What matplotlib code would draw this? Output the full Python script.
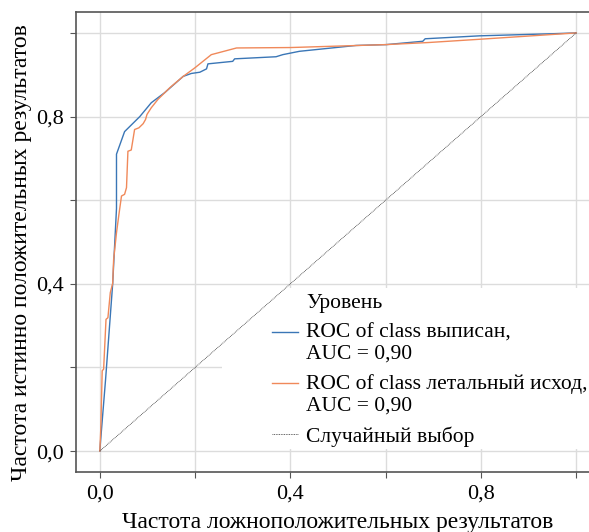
import numpy as np
import matplotlib.pyplot as plt
from matplotlib.lines import Line2D
from matplotlib.patches import Rectangle
from matplotlib.legend_handler import HandlerLine2D

# ROC curves
fpr_vyp = [0, 0.002, 0.012, 0.027, 0.035, 0.035, 0.052, 0.084, 0.108, 0.136, 0.175, 0.192,
           0.210, 0.224, 0.227, 0.279, 0.283, 0.370, 0.384, 0.419, 0.538, 0.601, 0.678,
           0.683, 0.797, 0.950, 1.0]
tpr_vyp = [0, 0.03, 0.17, 0.40, 0.58, 0.71, 0.764, 0.800, 0.833, 0.857, 0.896, 0.903,
           0.906, 0.914, 0.926, 0.932, 0.938, 0.943, 0.948, 0.956, 0.970, 0.972, 0.980,
           0.986, 0.993, 0.998, 1.0]

fpr_let = [0, 0.002, 0.005, 0.008, 0.013, 0.017, 0.022, 0.027, 0.029, 0.035, 0.040, 0.0455,
           0.052, 0.056, 0.059, 0.066, 0.073, 0.082, 0.091, 0.096, 0.099, 0.108, 0.122,
           0.147, 0.175, 0.199, 0.234, 0.287, 0.40, 0.60, 0.69, 0.80, 1.0]
tpr_let = [0, 0.053, 0.192, 0.196, 0.315, 0.319, 0.379, 0.401, 0.458, 0.522, 0.565, 0.610,
           0.614, 0.630, 0.717, 0.720, 0.769, 0.773, 0.783, 0.793, 0.805, 0.821, 0.841,
           0.869, 0.896, 0.916, 0.948, 0.964, 0.965, 0.972, 0.977, 0.985, 1.0]

labels = ["ROC of class выписан,\nAUC = 0,90",
          "ROC of class летальный исход,\nAUC = 0,90",
          "Случайный выбор"]
legend_title = "Уровень"
tick_vals = [0, 0.2, 0.4, 0.6, 0.8, 1.0]
tick_text = ["0,0", "", "0,4", "", "0,8", ""]

plt.rcParams['font.family'] = ['Liberation Serif', 'DejaVu Serif']


class TopLineHandler(HandlerLine2D):
    # put the key next to the first line of a two-line label
    def __init__(self, shift, **kw):
        super().__init__(**kw)
        self.shift = shift

    def create_artists(self, legend, orig_handle, xdescent, ydescent, width, height,
                       fontsize, trans):
        arts = super().create_artists(legend, orig_handle, xdescent, ydescent, width,
                                      height, fontsize, trans)
        for a in arts:
            a.set_ydata(np.asarray(a.get_ydata()) + self.shift)
        return arts


fig = plt.figure(figsize=(5.89, 5.32), dpi=100)
ax = fig.add_axes([76 / 589, 60 / 532, 524 / 589, 460 / 532])

blue, = ax.plot(fpr_vyp, tpr_vyp, color="#3a76b6", lw=1.0, zorder=3)
orange, = ax.plot(fpr_let, tpr_let, color="#f0895a", lw=1.0, zorder=3)
diag, = ax.plot([0, 1], [0, 1], color="#333333", lw=0.6, ls=(0, (1, 1)), zorder=3)

ax.set_xlim(-0.05, 1.05)
ax.set_ylim(-0.05, 1.05)
ax.set_xticks(tick_vals)
ax.set_xticklabels(tick_text)
ax.set_yticks(tick_vals)
ax.set_yticklabels(tick_text)
ax.tick_params(labelsize=16, length=4, width=0.8, color="#555555", pad=5)
ax.grid(True, color="#dcdcdc", lw=1.0)
ax.set_axisbelow(True)
for s in ax.spines.values():
    s.set_color("#555555")
    s.set_linewidth(1.2)
ax.spines["right"].set_visible(False)

ax.set_xlabel("Частота ложноположительных результатов", fontsize=17, labelpad=6)
ax.set_ylabel("Частота истинно положительных результатов", fontsize=17)
ax.yaxis.set_label_coords(-0.084, 0.476)

# white legend background that hides the grid
ax.add_patch(Rectangle((0.279, 0.05), 0.75, 0.35, transform=ax.transAxes,
                       facecolor="white", edgecolor="none", zorder=1))

title_handle = Line2D([], [], alpha=0)
leg = ax.legend([title_handle, blue, orange, diag], [legend_title] + labels,
                loc="center left", bbox_to_anchor=(0.374, 0.222), fontsize=15.5,
                frameon=False, handlelength=1.21, handletextpad=0.37, labelspacing=0.49,
                borderpad=0, borderaxespad=0,
                handler_map={blue: TopLineHandler(8.3), orange: TopLineHandler(8.3)})
for t in leg.get_texts():
    t.set_linespacing(1.17)
leg.set_zorder(4)

fig.savefig("out.png", dpi=100)
